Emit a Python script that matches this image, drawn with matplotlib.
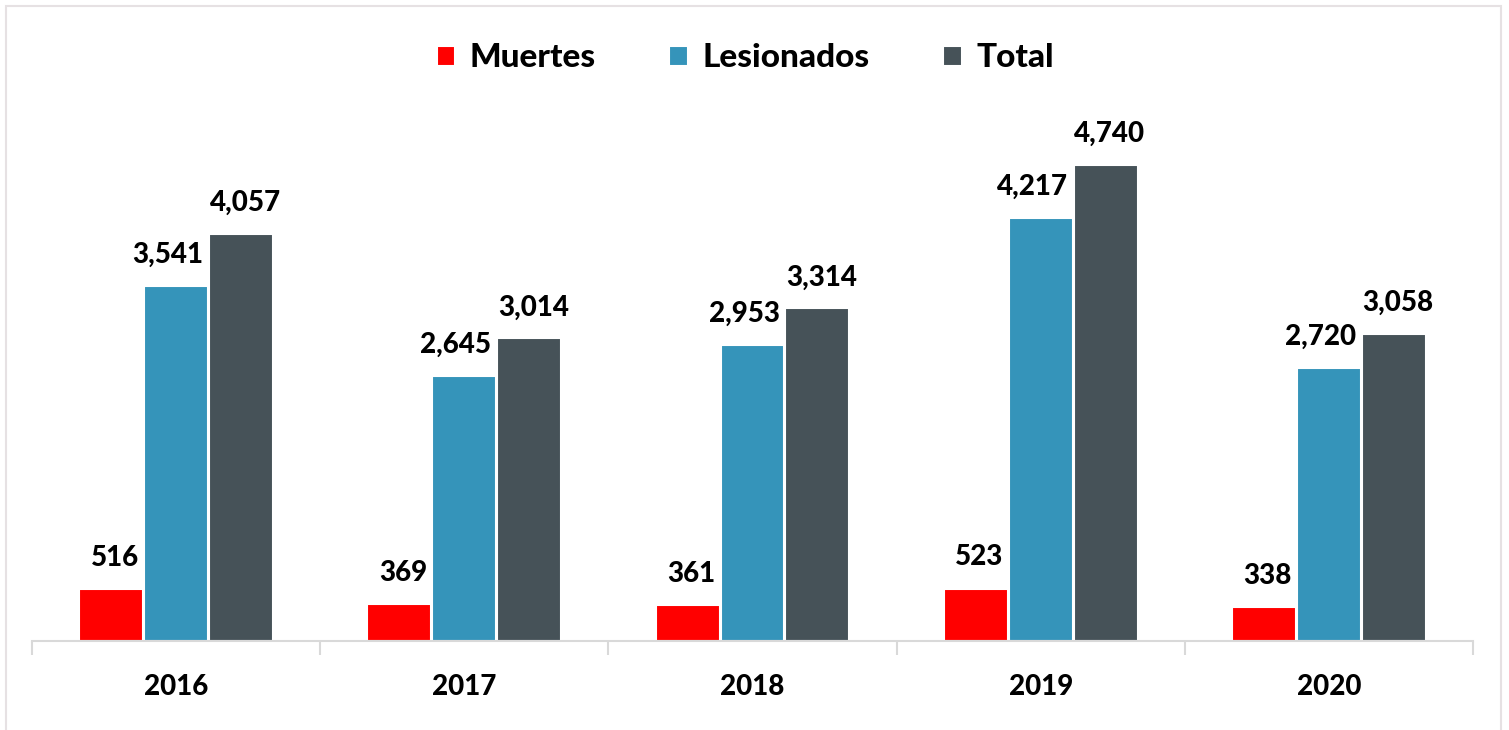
import matplotlib.pyplot as plt
from matplotlib.patches import Rectangle

# Datos
anios = ["2016", "2017", "2018", "2019", "2020"]
muertes = [516, 369, 361, 523, 338]
lesionados = [3541, 2645, 2953, 4217, 2720]
total = [4057, 3014, 3314, 4740, 3058]

series = ["Muertes", "Lesionados", "Total"]
colores = ["#FF0000", "#3594BA", "#465258"]

plt.rcParams['font.family'] = ['Lato', 'DejaVu Sans']

fig = plt.figure(figsize=(15.09, 7.30), dpi=100)
ax = fig.add_axes([32 / 1509, 89 / 730, 1441 / 1509, 541 / 730])

x = list(range(len(anios)))
ancho = 0.222
desplaz = [-0.225, 0.0, 0.225]
# corrimiento horizontal de las etiquetas (puntos), como en el original
corr_etiq = [2.5, -6, 3]

for valores, nombre, color, d, dx in zip([muertes, lesionados, total], series, colores, desplaz, corr_etiq):
    barras = ax.bar([i + d for i in x], valores, width=ancho, color=color,
                    edgecolor="white", linewidth=1.5, label=nombre, zorder=2)
    for b, v in zip(barras, valores):
        ax.annotate(f"{v:,}", (b.get_x() + b.get_width() / 2, v),
                    xytext=(dx, 13), textcoords="offset points",
                    ha="center", va="bottom", fontsize=20, fontweight="black",
                    color="black")

ax.set_xlim(-0.5, len(anios) - 0.5)
ax.set_ylim(0, 5390)
ax.set_yticks([])

# eje x con marcas entre categorias
ax.set_xticks([i - 0.5 for i in range(len(anios) + 1)])
ax.set_xticklabels([])
ax.set_xticks(x, minor=True)
ax.set_xticklabels(anios, minor=True, fontsize=20, fontweight="black")
ax.tick_params(axis="x", which="major", length=10, width=1.5, color="#D9D9D9")
ax.tick_params(axis="x", which="minor", length=0, pad=24)

for lado in ["top", "right", "left"]:
    ax.spines[lado].set_visible(False)
ax.spines["bottom"].set_color("#D9D9D9")
ax.spines["bottom"].set_linewidth(1.5)

ax.legend(loc="upper center", bbox_to_anchor=(0.495, 1.16), ncol=3, frameon=False,
          prop={"size": 24, "weight": "black"}, handlelength=0.55, handleheight=0.55,
          handletextpad=0.45, columnspacing=2.2)

# borde del grafico
fig.patches.append(Rectangle((6 / 1509, -0.05), 1501 / 1509 - 6 / 1509, 1.05 - 6 / 730,
                             transform=fig.transFigure, fill=False,
                             edgecolor="#E6E1E3", linewidth=1.5))

fig.savefig("out.png", dpi=100)
